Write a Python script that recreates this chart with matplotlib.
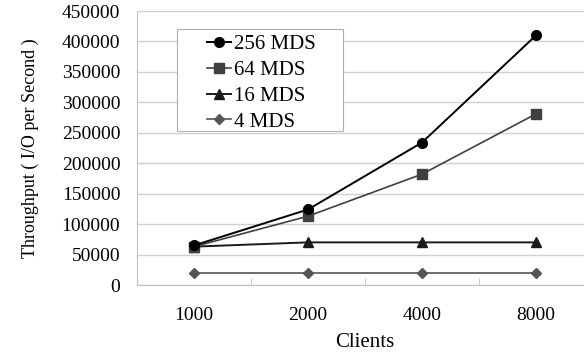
import matplotlib.pyplot as plt
from matplotlib.patches import Rectangle
import numpy as np

clients = ['1000', '2000', '4000', '8000']
mds_256 = [65000, 124000, 234000, 410000]
mds_64 = [63000, 113000, 182000, 281000]
mds_16 = [63000, 70000, 70000, 70000]
mds_4 = [20000, 20000, 20000, 20000]
yticks = [0, 50000, 100000, 150000, 200000, 250000, 300000, 350000, 400000, 450000]


def main():
    plt.rcParams['font.family'] = ['Liberation Serif', 'DejaVu Serif']
    fig = plt.figure(figsize=(5.84, 3.55), dpi=100)
    ax = fig.add_axes([137 / 584, 70 / 355, 456 / 584, 274 / 355])

    x = np.arange(len(clients))
    ax.plot(x, mds_256, color='black', lw=1.4, marker='o', ms=7, label='256 MDS', zorder=5)
    ax.plot(x, mds_64, color='#404040', lw=1.2, marker='s', ms=7, label='64 MDS', zorder=4)
    ax.plot(x, mds_16, color='#1a1a1a', lw=1.4, marker='^', ms=7, label='16 MDS', zorder=3)
    ax.plot(x, mds_4, color='#555555', lw=1.2, marker='D', ms=5, label='4 MDS', zorder=3)

    ax.set_xlim(-0.5, 3.5)
    ax.set_ylim(0, 450000)
    ax.set_yticks(yticks)
    ax.set_yticklabels([str(v) for v in yticks], fontsize=14)
    ax.set_xticks(x)
    ax.set_xticklabels(clients, fontsize=14)
    ax.set_xticks([0.5, 1.5, 2.5], minor=True)
    ax.tick_params(axis='x', which='major', length=0, pad=16)
    ax.tick_params(axis='x', which='minor', length=5, direction='in', color='#bfbfbf')
    ax.tick_params(axis='y', length=0, pad=12)
    ax.grid(axis='y', color='#d0d0d0', lw=1)
    ax.set_axisbelow(True)
    for s in ['top', 'right']:
        ax.spines[s].set_visible(False)
    for s in ['left', 'bottom']:
        ax.spines[s].set_color('#c0c0c0')

    ax.set_xlabel('Clients', fontsize=15, labelpad=6)
    ax.set_ylabel('Throughput ( I/O per Second )', fontsize=13, labelpad=16)

    # legend box drawn separately so it can be wider than the entries
    box = Rectangle((0.0877, 0.562), 0.364, 0.372, transform=ax.transAxes,
                    facecolor='white', edgecolor='#b0b0b0', lw=0.8, zorder=6)
    ax.add_patch(box)
    leg = ax.legend(loc='upper left', bbox_to_anchor=(0.1535, 0.914), fontsize=15,
                    frameon=False, handlelength=1.15, handletextpad=0.15,
                    labelspacing=0.3, borderpad=0, borderaxespad=0)
    leg.set_zorder(7)

    fig.savefig('out.png', dpi=100)


if __name__ == "__main__":
    main()
